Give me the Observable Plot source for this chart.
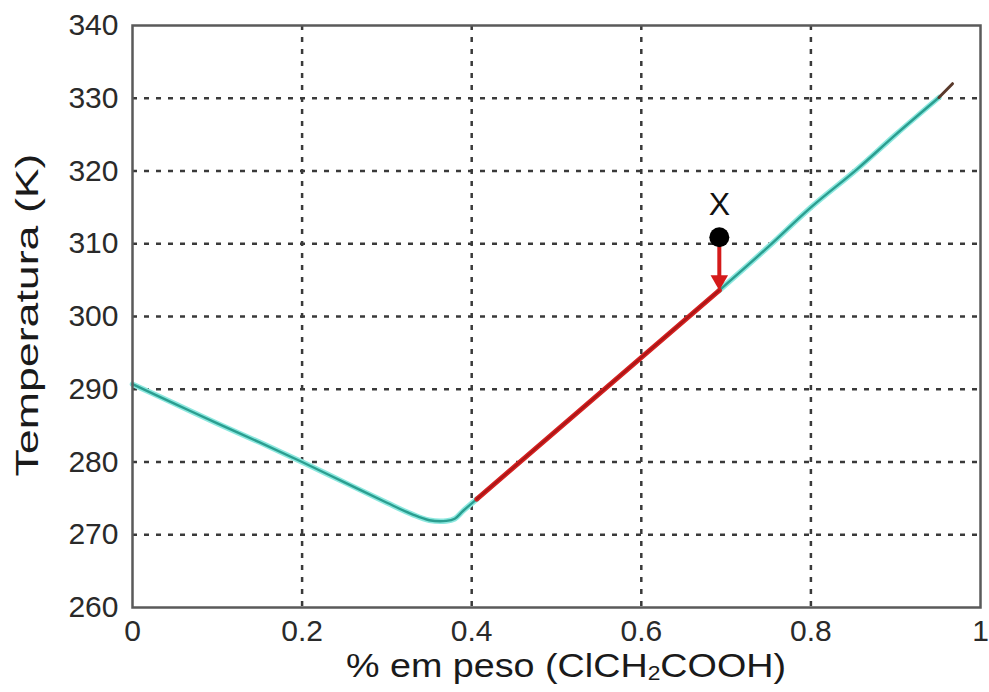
<!DOCTYPE html>
<html><head><meta charset="utf-8">
<script src="https://cdn.jsdelivr.net/npm/d3@7"></script>
<script src="https://cdn.jsdelivr.net/npm/@observablehq/plot@0.6"></script>
<style>body{margin:0;background:#fff} svg{display:block}</style>
</head><body><div id="chart"></div>
<script>
// Tick positions and labels
const xTicks = [0, 0.2, 0.4, 0.6, 0.8, 1];
const xTickLabels = ["0", "0.2", "0.4", "0.6", "0.8", "1"];
const yTicks = [260, 270, 280, 290, 300, 310, 320, 330, 340];

// Liquidus curve, left branch (cyan)
const leftX = [0, 0.05, 0.1, 0.15, 0.2, 0.25, 0.3, 0.33, 0.35, 0.37, 0.38, 0.39, 0.406];
const leftT = [290.7, 288.0, 285.3, 282.7, 280.0, 277.2, 274.4, 272.8, 272.0, 271.9, 272.2, 273.3, 274.9];

// Cooling path segment (red)
const redX = [0.406, 0.692];
const redT = [274.9, 303.6];

// Right branch (cyan)
const rightX = [0.692, 0.75, 0.8, 0.855, 0.9, 0.951];
const rightT = [303.6, 309.6, 315.0, 320.3, 325.0, 330.1];

// Dark tip at the end of the curve
const tipX = [0.951, 0.967];
const tipT = [330.1, 332.0];

// Point X and arrow
const pointX = [0.692];
const pointT = [310.9];
const pointLabel = ["X"];
const arrowToT = [303.6];

const toRows = (xs, ts) => xs.map((x, i) => ({x, T: ts[i]}));
const left = toRows(leftX, leftT);
const red = toRows(redX, redT);
const right = toRows(rightX, rightT);
const tip = toRows(tipX, tipT);
const pts = pointX.map((x, i) => ({x, T: pointT[i], label: pointLabel[i], to: arrowToT[i]}));

const chart = Plot.plot({
  width: 989, height: 692,
  marginLeft: 132, marginRight: 9, marginTop: 25, marginBottom: 85,
  style: {fontFamily: "'Liberation Sans', Arial, sans-serif", background: "#fff", color: "#2a2a2a"},
  x: {domain: [0, 1]},
  y: {domain: [260, 340]},
  marks: [
    Plot.gridX(xTicks.slice(1, -1), {stroke: "#3a3a3a", strokeOpacity: 1, strokeWidth: 2.5, strokeDasharray: "5,7"}),
    Plot.gridY(yTicks.slice(1, -1), {stroke: "#3a3a3a", strokeOpacity: 1, strokeWidth: 2.5, strokeDasharray: "5,7"}),
    Plot.line(left, {x: "x", y: "T", stroke: "#8de8df", strokeWidth: 5.5, curve: "catmull-rom"}),
    Plot.line(left, {x: "x", y: "T", stroke: "#2a9e90", strokeWidth: 2.4, curve: "catmull-rom"}),
    Plot.line(right, {x: "x", y: "T", stroke: "#8de8df", strokeWidth: 5.5, curve: "catmull-rom"}),
    Plot.line(right, {x: "x", y: "T", stroke: "#2a9e90", strokeWidth: 2.4, curve: "catmull-rom"}),
    Plot.line(red, {x: "x", y: "T", stroke: "#d42020", strokeWidth: 5}),
    Plot.line(red, {x: "x", y: "T", stroke: "#a81616", strokeWidth: 2}),
    Plot.line(tip, {x: "x", y: "T", stroke: "#5a3a2c", strokeWidth: 3}),
    Plot.ruleX(pts, {x: "x", y1: "T", y2: "to", stroke: "#d41a1a", strokeWidth: 4, insetBottom: 12}),
    Plot.dot(pts, {x: "x", y: "to", symbol: "triangle", rotate: 180, r: 6.5, fill: "#d41a1a", stroke: "none", dy: -10}),
    Plot.dot(pts, {x: "x", y: "T", r: 10, fill: "#000", stroke: "none"}),
    Plot.text(pts, {x: "x", y: "T", text: "label", dy: -32, fontSize: 32, fill: "#111"}),
    Plot.frame({stroke: "#5a5a5a", strokeWidth: 2.5}),
    Plot.axisX({ticks: xTicks, tickSize: 0, tickPadding: 12, fontSize: 30, fill: "#2a2a2a", label: null,
      tickFormat: d => xTickLabels[xTicks.indexOf(d)]}),
    Plot.axisY({ticks: yTicks, tickSize: 0, tickPadding: 14, fontSize: 30, fill: "#2a2a2a", label: null})
  ]
});

document.getElementById("chart").appendChild(chart);

// Axis titles
const svg = d3.select(chart);
const xt = svg.append("text")
  .attr("x", 566).attr("y", 677)
  .attr("text-anchor", "middle")
  .attr("font-size", 33)
  .attr("fill", "#1a1a1a")
  .attr("textLength", 440).attr("lengthAdjust", "spacingAndGlyphs");
xt.append("tspan").text("% em peso (ClCH");
xt.append("tspan").attr("font-size", 20).attr("dy", 3).text("2");
xt.append("tspan").attr("dy", -3).text("COOH)");

svg.append("text")
  .attr("transform", "translate(38,315) rotate(-90)")
  .attr("text-anchor", "middle")
  .attr("font-size", 32)
  .attr("fill", "#1a1a1a")
  .attr("textLength", 323).attr("lengthAdjust", "spacingAndGlyphs")
  .text("Temperatura (K)");
</script>
</body></html>
